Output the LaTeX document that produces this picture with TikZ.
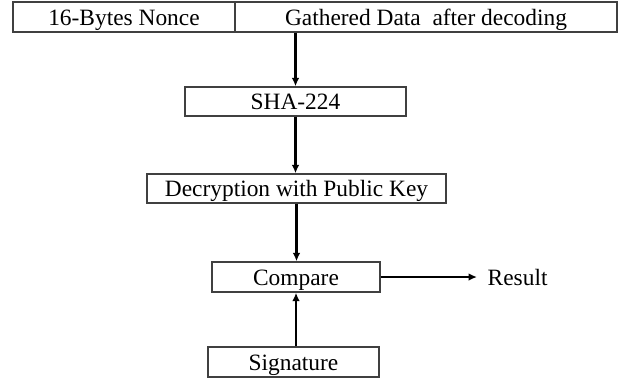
\documentclass[tikz,border=0pt]{standalone}
\usepackage{fontspec}
\setmainfont{Liberation Serif}
\usetikzlibrary{arrows.meta}
\tikzset{
	blockbox/.style={draw=black!75, line width=0.7pt, rectangle, inner sep=0pt, text height=9.6pt, text depth=1.4pt, font=\fontsize{11.7}{14}\selectfont},
	flowarrow/.style={draw=black, line width=1.2pt, -{Latex[length=4.2pt, width=3.8pt]}}
}

\begin{document}
\begin{tikzpicture}[x=0.5pt, y=-0.5pt]
		%%%%% START %%%%%
		
		\useasboundingbox (0, 0) rectangle (625, 382);
		
		\node[blockbox, minimum width=111pt, minimum height=15pt] (nonce) at (124, 17) {16-Bytes Nonce};
		\node[blockbox, minimum width=191pt, minimum height=15pt] (data) at (426, 17) {Gathered Data\ \ after decoding};
		
		\node[blockbox, minimum width=110.5pt, minimum height=14.5pt] (sha) at (295.5, 101.5) {SHA-224};
		\node[blockbox, minimum width=149.5pt, minimum height=14.5pt] (decrypt) at (296.5, 188.5) {Decryption with Public Key};
		
		\node[blockbox, minimum width=84pt, minimum height=15pt] (compare) at (296, 277) {Compare};
		\node[blockbox, draw=none, anchor=west, inner xsep=5pt] (result) at (477, 277) {Result};
		
		\node[blockbox, minimum width=85.5pt, minimum height=15pt] (signature) at (293.5, 362) {Signature};
		
		\draw[flowarrow] (sha.north |- data.south) -- (sha.north);
		\draw[flowarrow] (sha.south) -- (sha.south |- decrypt.north);
		\draw[flowarrow] (decrypt.south) -- (decrypt.south |- compare.north);
		\draw[flowarrow] (compare.south |- signature.north) -- (compare.south);
		\draw[flowarrow] (compare.east) -- (result.west);
		
		%%%%% END %%%%%
	\end{tikzpicture}
\end{document}
